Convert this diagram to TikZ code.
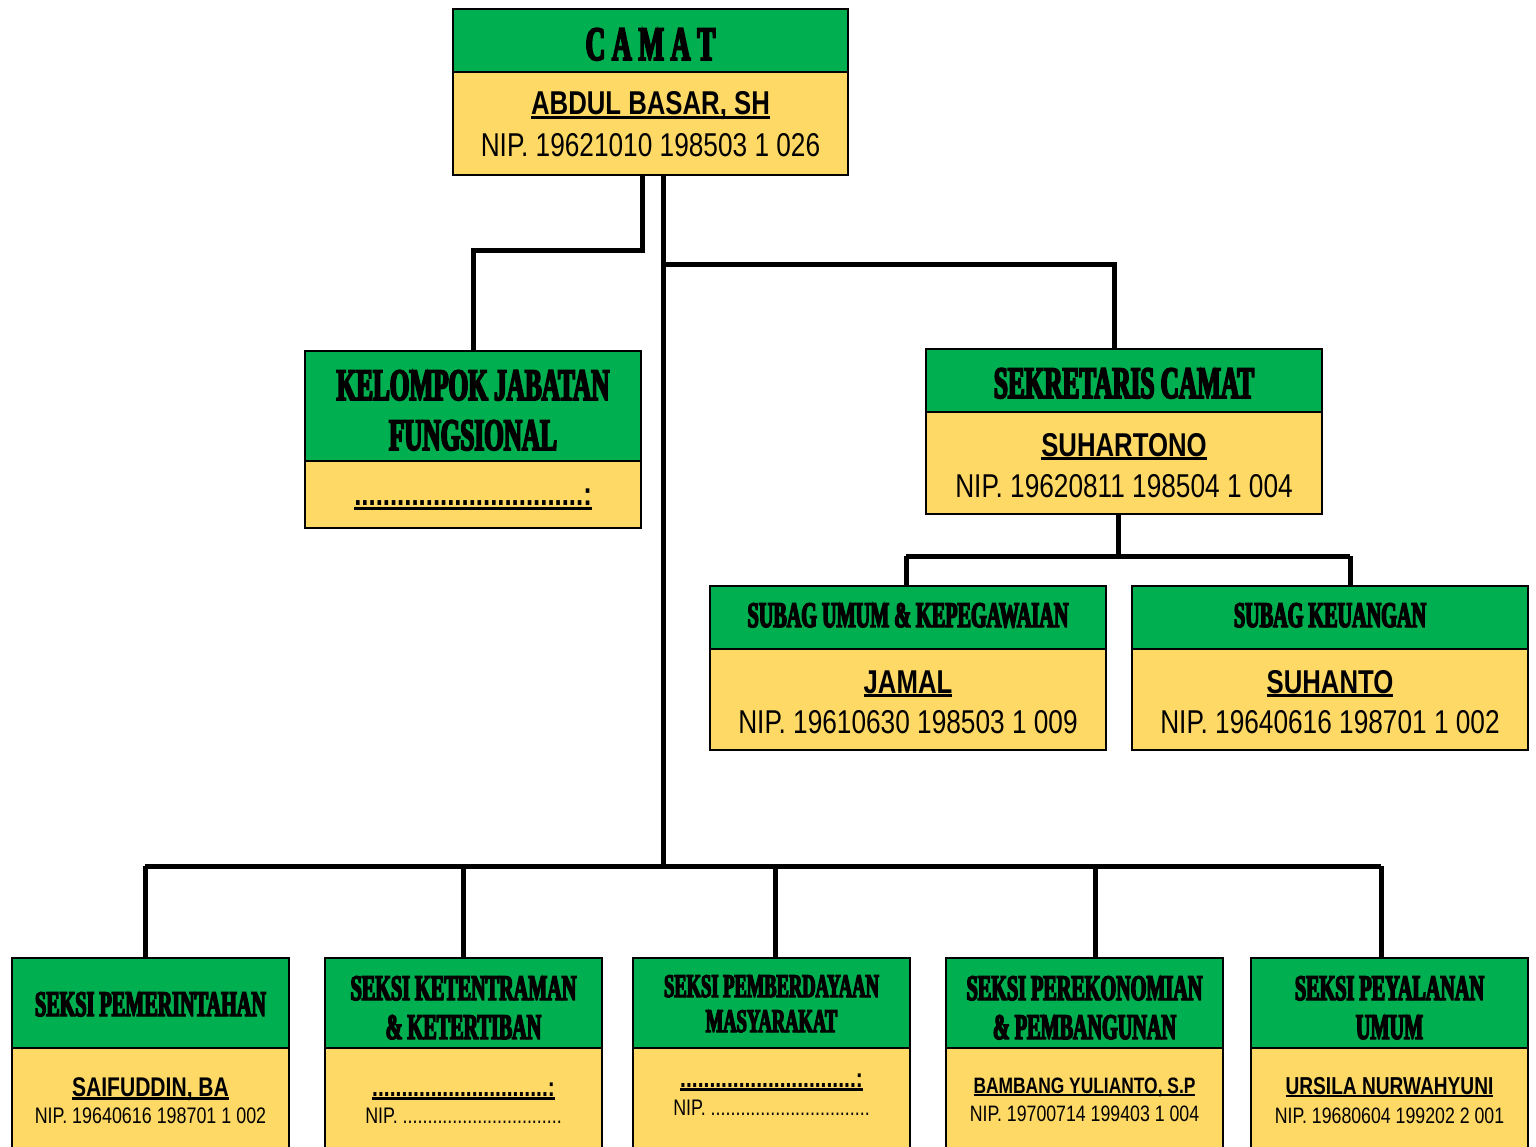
\documentclass[tikz,border=0pt]{standalone}
\usepackage{fontspec}
\setmainfont{Liberation Sans}
\newfontfamily\headfont{Liberation Serif}[UprightFont={* Bold},FakeStretch=0.56,FakeBold=4]
\newfontfamily\nipfont{Liberation Sans}[FakeStretch=0.795]
\newfontfamily\namefont{Liberation Sans}[UprightFont={* Bold},FakeStretch=0.78]
\definecolor{gr}{HTML}{00B050}
\definecolor{yl}{HTML}{FFD966}
\newcommand{\ulbox}[3]{\setbox0=\hbox{#3}\rlap{\copy0}\raisebox{-#1}{\rule{\wd0}{#2}}}
\newcommand{\fsz}[1]{\fontsize{#1}{#1}\selectfont}
\begin{document}
\begin{tikzpicture}[x=1pt,y=-1pt,
  box/.style={draw=black,line width=2.5pt,anchor=north west,inner sep=0pt,outer sep=0pt},
  gb/.style={box,fill=gr},
  yb/.style={box,fill=yl},
  conn/.style={line width=5pt,line join=miter},
  txt/.style={anchor=base,inner sep=0pt,align=center},
  hbig/.style={txt,font=\headfont\fontsize{45}{50}\selectfont},
  hmid/.style={txt,font=\headfont\fontsize{36}{39}\selectfont},
  nmbig/.style={txt,font=\namefont\fsz{33}},
  nipbig/.style={txt,font=\nipfont\fsz{33}},
  nipsm/.style={txt,font=\nipfont\fsz{22.5}}]
\useasboundingbox (0,0) rectangle (1536,1147);
\fill[white] (0,0) rectangle (1536,1147);

% boxes
\node[gb,minimum width=395pt,minimum height=63pt] (camH) at (453,9) {};
\node[yb,minimum width=395pt,minimum height=103pt] (camY) at (453,72) {};
\node[gb,minimum width=336pt,minimum height=110pt] (kelH) at (305,351) {};
\node[yb,minimum width=336pt,minimum height=67pt] (kelY) at (305,461) {};
\node[gb,minimum width=396pt,minimum height=63pt] (sekH) at (926,349) {};
\node[yb,minimum width=396pt,minimum height=102pt] (sekY) at (926,412) {};
\node[gb,minimum width=396pt,minimum height=63pt] (suH) at (710,586) {};
\node[yb,minimum width=396pt,minimum height=101pt] (suY) at (710,649) {};
\node[gb,minimum width=396pt,minimum height=63pt] (skH) at (1132,586) {};
\node[yb,minimum width=396pt,minimum height=101pt] (skY) at (1132,649) {};
\node[gb,minimum width=277pt,minimum height=90pt] (s1H) at (12,958) {};
\node[yb,minimum width=277pt,minimum height=120pt] (s1Y) at (12,1048) {};
\node[gb,minimum width=277pt,minimum height=90pt] (s2H) at (325,958) {};
\node[yb,minimum width=277pt,minimum height=120pt] (s2Y) at (325,1048) {};
\node[gb,minimum width=277pt,minimum height=90pt] (s3H) at (633,958) {};
\node[yb,minimum width=277pt,minimum height=120pt] (s3Y) at (633,1048) {};
\node[gb,minimum width=277pt,minimum height=90pt] (s4H) at (946,958) {};
\node[yb,minimum width=277pt,minimum height=120pt] (s4Y) at (946,1048) {};
\node[gb,minimum width=277pt,minimum height=90pt] (s5H) at (1251,958) {};
\node[yb,minimum width=277pt,minimum height=120pt] (s5Y) at (1251,1048) {};

% helper x coordinates
\coordinate (xa) at (642,0);
\coordinate (xt) at (663,0);
\coordinate (xs) at (1114,0);
\coordinate (xss) at (1118,0);
\coordinate (xu) at (906,0);
\coordinate (xk) at (1350,0);
\coordinate (x1) at (145,0);
\coordinate (x2) at (463,0);
\coordinate (x3) at (775,0);
\coordinate (x4) at (1095,0);
\coordinate (x5) at (1381,0);
\coordinate (bus) at (663,866);
\coordinate (busL) at (145,866);
\coordinate (busR) at (1381,866);
\coordinate (sbus) at (1118,556);

% connectors
\draw[conn] (camY.south -| xa) -- (642,251) -| (kelH.north);
\draw[conn] (camY.south -| xt) -- (bus);
\draw[conn] (663,265) -| (sekH.north -| xs);
\draw[conn] (sekY.south -| xss) -- (sbus);
\draw[conn] (sbus -| xu) -- (sbus -| xk);
\draw[conn] (sbus -| xu) -- (suH.north -| xu);
\draw[conn] (sbus -| xk) -- (skH.north -| xk);
\draw[conn] (busL) -- (busR);
\draw[conn] (busL) -- (s1H.north -| x1);
\draw[conn] (bus -| x2) -- (s2H.north -| x2);
\draw[conn] (bus -| x3) -- (s3H.north -| x3);
\draw[conn] (bus -| x4) -- (s4H.north -| x4);
\draw[conn] (busR) -- (s5H.north -| x5);

% CAMAT
\node[txt,font=\headfont\fsz{48}] (tcam) at (650.5,60) {C\hspace{7pt}A\hspace{7pt}M\hspace{7pt}A\hspace{7pt}T};
\node[nmbig] (ncam) at (650.5,115) {\ulbox{4pt}{2.6pt}{ABDUL BASAR, SH}};
\node[nipbig] (pcam) at (650.5,157) {NIP. 19621010 198503 1 026};

% Kelompok
\node[hbig] (tkel) at (473,450) {KELOMPOK JABATAN\\FUNGSIONAL};
\node[nmbig] (nkel) at (473,505) {\ulbox{5pt}{3pt}{................................:}};

% Sekretaris
\node[hbig] (tsek) at (1124,398) {SEKRETARIS CAMAT};
\node[nmbig] (nsek) at (1124,456) {\ulbox{4pt}{2.6pt}{SUHARTONO}};
\node[nipbig] (psek) at (1124,497) {NIP. 19620811 198504 1 004};

% Subag
\node[hmid] (tsu) at (908,627) {SUBAG UMUM \& KEPEGAWAIAN};
\node[nmbig] (nsu) at (908,693) {\ulbox{4pt}{2.6pt}{JAMAL}};
\node[nipbig] (psu) at (908,733) {NIP. 19610630 198503 1 009};
\node[hmid] (tsk) at (1330,627) {SUBAG KEUANGAN};
\node[nmbig] (nsk) at (1330,693) {\ulbox{4pt}{2.6pt}{SUHANTO}};
\node[nipbig] (psk) at (1330,733) {NIP. 19640616 198701 1 002};

% Seksi
\node[hmid] (t1) at (150.5,1016) {SEKSI PEMERINTAHAN};
\node[txt,font=\namefont\fsz{27}] (n1) at (150.5,1096) {\ulbox{3.5pt}{2.2pt}{SAIFUDDIN, BA}};
\node[nipsm] (p1) at (150.5,1123) {NIP. 19640616 198701 1 002};

\node[hmid] (t2) at (463.5,1039) {SEKSI KETENTRAMAN\\\& KETERTIBAN};
\node[txt,font=\namefont\fsz{27}] (n2) at (463.5,1096) {\ulbox{3.5pt}{2.2pt}{..............................:}};
\node[nipsm] (p2) at (463.5,1123) {NIP. ................................};

\node[txt,font=\headfont\fontsize{33}{35}\selectfont] (t3) at (771.5,1032) {SEKSI PEMBERDAYAAN\\MASYARAKAT};
\node[txt,font=\namefont\fsz{27}] (n3) at (771.5,1087) {\ulbox{3.5pt}{2.2pt}{..............................:}};
\node[nipsm] (p3) at (771.5,1115) {NIP. ................................};

\node[hmid] (t4) at (1084.5,1039) {SEKSI PEREKONOMIAN\\\& PEMBANGUNAN};
\node[txt,font=\namefont\fsz{22.3}] (n4) at (1084.5,1093) {\ulbox{3pt}{2pt}{BAMBANG YULIANTO, S.P}};
\node[txt,font=\nipfont\fsz{22.3}] (p4) at (1084.5,1121) {NIP. 19700714 199403 1 004};

\node[hmid] (t5) at (1389.5,1039) {SEKSI PEYALANAN\\UMUM};
\node[txt,font=\namefont\fsz{24.5}] (n5) at (1389.5,1094) {\ulbox{3pt}{2pt}{URSILA NURWAHYUNI}};
\node[txt,font=\nipfont\fsz{22.3}] (p5) at (1389.5,1123) {NIP. 19680604 199202 2 001};
\end{tikzpicture}
\end{document}
